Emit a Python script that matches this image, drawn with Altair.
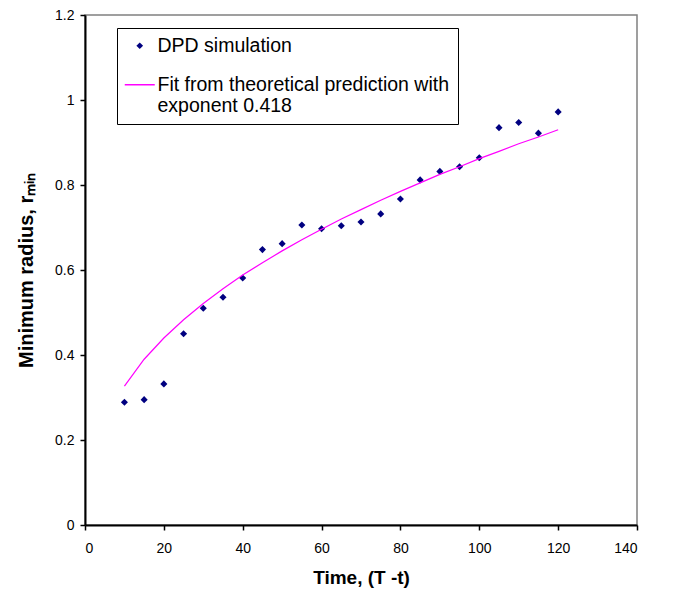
import altair as alt
import pandas as pd

# DPD simulation points
sim_time = [10, 15, 20, 25, 30, 35, 40, 45, 50, 55, 60, 65, 70, 75, 80, 85, 90, 95, 100, 105, 110, 115, 120]
sim_rmin = [0.289, 0.295, 0.332, 0.450, 0.510, 0.536, 0.581, 0.648, 0.662, 0.706, 0.697, 0.704, 0.713,
            0.732, 0.767, 0.812, 0.832, 0.843, 0.864, 0.935, 0.947, 0.922, 0.972]

# Fit curve
fit_time = [10, 15, 20, 25, 30, 35, 40, 45, 50, 55, 60, 65, 70, 75, 80, 85, 90, 95, 100, 105, 110, 115, 120]
fit_rmin = [0.327, 0.390, 0.440, 0.483, 0.521, 0.556, 0.588, 0.617, 0.645, 0.671, 0.696, 0.720, 0.742,
            0.764, 0.785, 0.805, 0.825, 0.843, 0.862, 0.879, 0.897, 0.913, 0.930]

series_names = ["DPD simulation", "Fit from theoretical prediction with exponent 0.418"]
series_colors = ["#000080", "#FF00FF"]

x_ticks = [0, 20, 40, 60, 80, 100, 120, 140]
y_ticks = [0, 0.2, 0.4, 0.6, 0.8, 1.0, 1.2]

sim_df = pd.DataFrame({"t": sim_time, "r": sim_rmin, "series": series_names[0]})
fit_df = pd.DataFrame({"t": fit_time, "r": fit_rmin, "series": series_names[1]})

FONT = "Liberation Sans"

xenc = alt.X("t:Q", scale=alt.Scale(domain=[0, 140], nice=False),
             axis=alt.Axis(values=x_ticks, title="Time, (T -t)", grid=False,
                           domainColor="black", domainWidth=2, tickColor="black",
                           tickWidth=1.5, tickSize=5, labelFontSize=14, labelPadding=11,
                           titleFontSize=19, titleFontWeight="bold", titlePadding=13,
                           labelColor="black", titleColor="black", labelFont=FONT, titleFont=FONT))
yenc = alt.Y("r:Q", scale=alt.Scale(domain=[0, 1.2], nice=False),
             axis=alt.Axis(values=y_ticks, format="~g", title="Minimum radius, rₘᵢₙ", grid=False,
                           domainColor="black", domainWidth=2, tickColor="black",
                           tickWidth=1.5, tickSize=5, labelFontSize=14, labelPadding=6,
                           titleFontSize=20, titleFontWeight="bold", titlePadding=18,
                           labelColor="black", titleColor="black", labelFont=FONT, titleFont=FONT))

color_scale = alt.Scale(domain=series_names, range=series_colors)

IS_SIM = "datum.value == 'DPD simulation'"
legend = alt.Legend(
    title=None, orient="none", legendX=32, legendY=13,
    strokeColor="black", fillColor="white", padding=8,
    labelFontSize=19.5, labelFont=FONT, labelColor="black", labelLimit=500,
    labelOffset=8, symbolOffset=5, rowPadding=18,
    labelExpr="datum.label == 'DPD simulation' ? datum.label : ['Fit from theoretical prediction with', 'exponent 0.418']",
    symbolType=alt.ExprRef(expr=f"{IS_SIM} ? 'diamond' : 'stroke'"),
    symbolSize=alt.ExprRef(expr=f"{IS_SIM} ? 45 : 900"),
    symbolFillColor=alt.ExprRef(expr=f"{IS_SIM} ? '#000080' : 'transparent'"),
    symbolStrokeColor=alt.ExprRef(expr=f"{IS_SIM} ? '#000080' : '#FF00FF'"),
    symbolStrokeWidth=alt.ExprRef(expr=f"{IS_SIM} ? 0 : 1.5"),
)

points = alt.Chart(sim_df).mark_point(shape="diamond", filled=True, size=50, opacity=1).encode(
    x=xenc, y=yenc,
    color=alt.Color("series:N", scale=color_scale, legend=legend),
)

line = alt.Chart(fit_df).mark_line(strokeWidth=1.2).encode(
    x=xenc, y=yenc,
    color=alt.Color("series:N", scale=color_scale, legend=legend),
)

chart = alt.layer(points, line).properties(
    width=552, height=510,
    padding={"left": 77, "top": 7, "right": 37, "bottom": 68},
    autosize=alt.AutoSizeParams(type="none"),
    background="white",
).configure_view(stroke="#808080", strokeWidth=1.5)

chart.save("out.html", embed_options={"renderer": "svg", "actions": False})
